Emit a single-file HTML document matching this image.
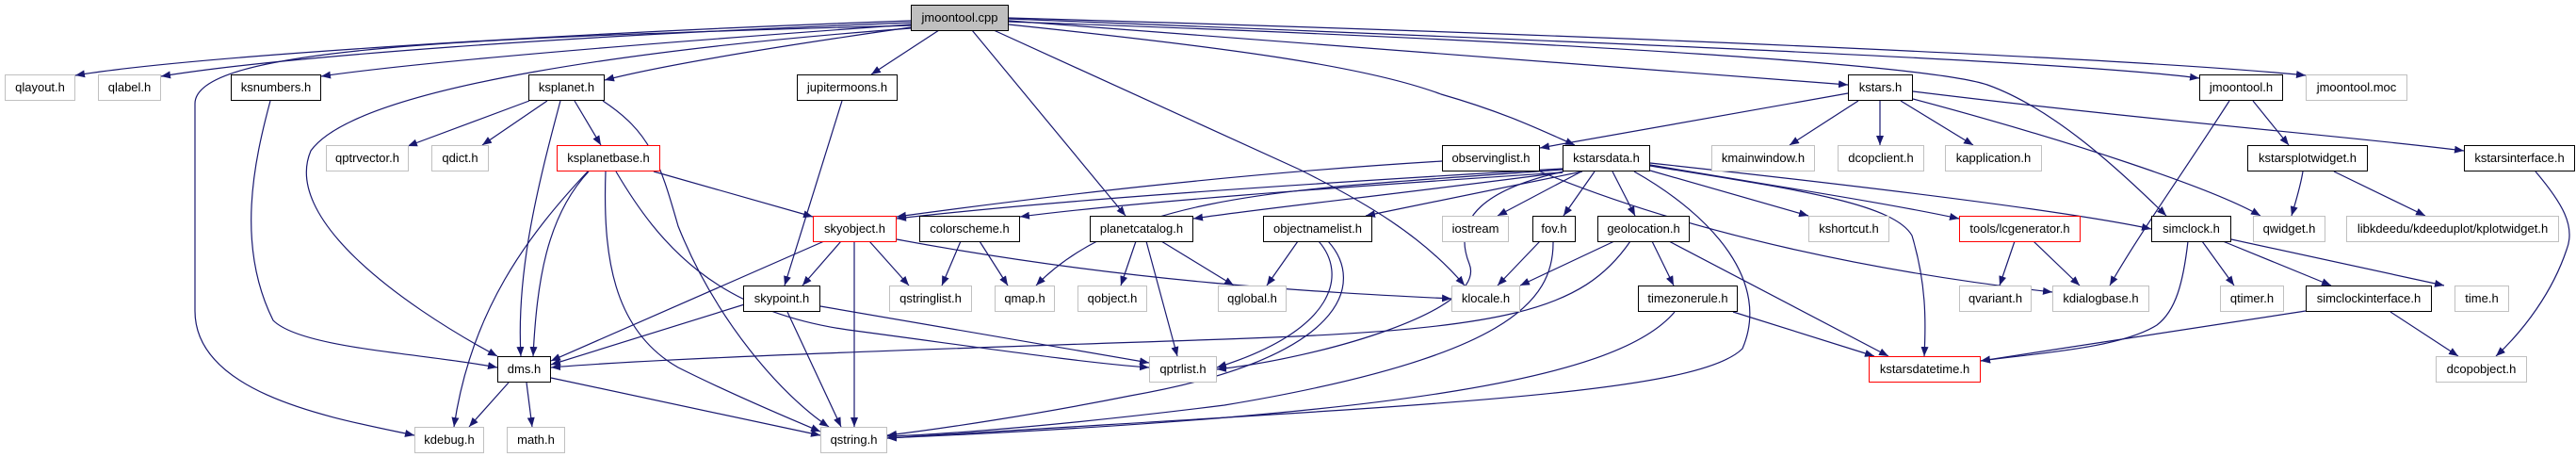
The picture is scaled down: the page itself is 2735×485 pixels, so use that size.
<!DOCTYPE html>
<html><head><meta charset="utf-8"><style>
html,body{margin:0;padding:0;background:#fff;}
#c{position:relative;width:2735px;height:485px;overflow:hidden;background:#fff;}
.n{position:absolute;box-sizing:border-box;height:28px;line-height:26px;text-align:center;font-family:"Liberation Sans",sans-serif;font-size:13px;color:#000;background:#fff;white-space:nowrap;}
.g{border:1.5px solid #c0c0c0;}
.b{border:1.5px solid #000;}
.r{border:1.5px solid #ff0000;}
.f{border:1.5px solid #000;background:#bfbfbf;}
svg{position:absolute;left:0;top:0;}
</style></head><body><div id="c">
<svg width="2735" height="485" viewBox="0 0 2735 485">
<defs><marker id="a" viewBox="0 0 10 8" refX="10" refY="4" markerWidth="10" markerHeight="8" markerUnits="userSpaceOnUse" orient="auto"><polygon points="0,0 10,4 0,8" fill="#191970"/></marker></defs>
<g fill="none" stroke="#191970" stroke-width="1.2" marker-end="url(#a)">
<path d="M967,22 C600,35 200,60 80,80"/>
<path d="M967,24 C600,38 300,60 171,81"/>
<path d="M967,26 C700,45 450,65 341,81"/>
<path d="M967,27 C500,40 207,50 207,110 L207,330 C207,420 360,445 440,462"/>
<path d="M967,30 C700,50 380,90 330,160 C300,230 420,320 528,378"/>
<path d="M967,29 C820,50 700,70 642,85"/>
<path d="M997,32 L925,79"/>
<path d="M1032,32 L1195,229"/>
<path d="M1055,32 L1380,180 C1450,215 1510,250 1555,303"/>
<path d="M1071,26 C1300,50 1450,70 1530,100 C1600,120 1640,140 1672,154"/>
<path d="M1071,22 L1962,90"/>
<path d="M1071,23 C1700,45 2050,70 2110,90 C2180,115 2250,180 2300,229"/>
<path d="M1071,20 C1700,45 2200,65 2335,83"/>
<path d="M1071,19 C1800,40 2300,65 2448,80"/>
<path d="M1962,99 L1635,157"/>
<path d="M1973,107 L1900,154"/>
<path d="M1996,107 L1996,154"/>
<path d="M2018,107 L2095,154"/>
<path d="M2031,105 C2200,150 2350,200 2400,229"/>
<path d="M2031,97 C2300,130 2500,145 2616,160"/>
<path d="M2392,107 L2430,154"/>
<path d="M2367,107 C2320,180 2270,250 2240,303"/>
<path d="M2445,182 C2442,200 2437,215 2433,229"/>
<path d="M2478,182 L2575,229"/>
<path d="M2692,182 C2720,215 2735,240 2725,265 C2710,310 2680,350 2650,378"/>
<path d="M287,107 C270,170 250,260 290,340 C320,370 450,375 528,390"/>
<path d="M562,107 L433,155"/>
<path d="M581,107 L512,154"/>
<path d="M610,107 L638,154"/>
<path d="M595,107 C570,200 548,290 553,378"/>
<path d="M640,107 C690,140 700,170 720,240 C760,340 830,420 880,453"/>
<path d="M694,182 L863,230"/>
<path d="M625,182 C580,230 570,300 566,378"/>
<path d="M624,182 C560,250 500,330 482,453"/>
<path d="M643,182 C640,270 650,350 720,390 C780,420 840,445 871,458"/>
<path d="M654,182 C700,260 760,330 900,350 C1050,370 1150,385 1220,390"/>
<path d="M893,256 L852,303"/>
<path d="M875,256 L585,383"/>
<path d="M907,256 L907,453"/>
<path d="M923,256 L965,303"/>
<path d="M952,254 C1200,300 1400,310 1541,317"/>
<path d="M894,107 L833,303"/>
<path d="M1020,256 L1000,303"/>
<path d="M1040,256 L1070,303"/>
<path d="M1206,256 L1190,303"/>
<path d="M1233,256 L1310,303"/>
<path d="M1217,256 L1250,378"/>
<path d="M1378,256 L1345,303"/>
<path d="M1400,256 C1430,290 1420,350 1292,390"/>
<path d="M1410,256 C1450,300 1430,380 1200,420 C1100,440 1000,455 942,462"/>
<path d="M797,321 L585,387"/>
<path d="M836,331 L893,453"/>
<path d="M871,325 L1220,385"/>
<path d="M540,406 L498,453"/>
<path d="M559,406 L565,453"/>
<path d="M585,401 L871,462"/>
<path d="M1531,171 C1300,185 1100,210 952,230"/>
<path d="M1635,182 C1800,250 2000,290 2179,310"/>
<path d="M1659,179 C1300,200 1100,215 952,232"/>
<path d="M1659,183 C1400,200 1200,215 1083,230"/>
<path d="M1659,183 C1450,210 1350,220 1267,232"/>
<path d="M1659,180 C1400,200 1200,200 1100,303"/>
<path d="M1680,182 L1450,229"/>
<path d="M1660,182 C1580,200 1540,230 1560,280 C1580,330 1400,380 1292,392"/>
<path d="M1679,182 L1590,229"/>
<path d="M1693,182 L1660,229"/>
<path d="M1712,182 L1736,229"/>
<path d="M1752,181 L1920,229"/>
<path d="M1735,182 C1820,230 1880,300 1850,370 C1800,420 1500,430 942,465"/>
<path d="M1752,176 C1900,200 2010,215 2030,250 C2045,300 2045,340 2043,378"/>
<path d="M1752,175 C1900,200 2000,215 2080,232"/>
<path d="M1752,173 C2000,200 2200,225 2284,243"/>
<path d="M1635,256 L1590,303"/>
<path d="M1649,256 C1650,320 1600,380 1300,430 C1100,455 980,462 942,463"/>
<path d="M1714,256 L1614,303"/>
<path d="M1754,256 L1777,303"/>
<path d="M1772,256 L2005,378"/>
<path d="M1731,256 C1680,330 1600,350 1300,360 C1000,370 700,380 585,390"/>
<path d="M1840,331 L1990,378"/>
<path d="M1778,331 C1720,400 1500,440 942,465"/>
<path d="M2139,256 L2123,303"/>
<path d="M2159,256 L2208,303"/>
<path d="M2338,256 L2372,303"/>
<path d="M2360,256 L2475,303"/>
<path d="M2369,254 L2595,303"/>
<path d="M2323,256 C2318,300 2310,330 2290,345 C2250,370 2160,375 2103,383"/>
<path d="M2448,330 L2103,383"/>
<path d="M2538,331 L2610,378"/>
</g>
</svg>
<div class="n f" style="left:967px;top:5px;width:104px;">jmoontool.cpp</div>
<div class="n g" style="left:5px;top:79px;width:75px;">qlayout.h</div>
<div class="n g" style="left:104px;top:79px;width:67px;">qlabel.h</div>
<div class="n b" style="left:245px;top:79px;width:96px;">ksnumbers.h</div>
<div class="n b" style="left:561px;top:79px;width:81px;">ksplanet.h</div>
<div class="n b" style="left:846px;top:79px;width:107px;">jupitermoons.h</div>
<div class="n b" style="left:1962px;top:79px;width:69px;">kstars.h</div>
<div class="n b" style="left:2335px;top:79px;width:89px;">jmoontool.h</div>
<div class="n g" style="left:2448px;top:79px;width:108px;">jmoontool.moc</div>
<div class="n g" style="left:346px;top:154px;width:88px;">qptrvector.h</div>
<div class="n g" style="left:458px;top:154px;width:61px;">qdict.h</div>
<div class="n r" style="left:591px;top:154px;width:110px;">ksplanetbase.h</div>
<div class="n b" style="left:1531px;top:154px;width:104px;">observinglist.h</div>
<div class="n b" style="left:1659px;top:154px;width:93px;">kstarsdata.h</div>
<div class="n g" style="left:1817px;top:154px;width:110px;">kmainwindow.h</div>
<div class="n g" style="left:1951px;top:154px;width:92px;">dcopclient.h</div>
<div class="n g" style="left:2065px;top:154px;width:103px;">kapplication.h</div>
<div class="n b" style="left:2386px;top:154px;width:128px;">kstarsplotwidget.h</div>
<div class="n b" style="left:2616px;top:154px;width:118px;">kstarsinterface.h</div>
<div class="n r" style="left:863px;top:229px;width:89px;">skyobject.h</div>
<div class="n b" style="left:976px;top:229px;width:107px;">colorscheme.h</div>
<div class="n b" style="left:1157px;top:229px;width:110px;">planetcatalog.h</div>
<div class="n b" style="left:1341px;top:229px;width:116px;">objectnamelist.h</div>
<div class="n g" style="left:1531px;top:229px;width:71px;">iostream</div>
<div class="n b" style="left:1627px;top:229px;width:46px;">fov.h</div>
<div class="n b" style="left:1696px;top:229px;width:98px;">geolocation.h</div>
<div class="n g" style="left:1920px;top:229px;width:86px;">kshortcut.h</div>
<div class="n r" style="left:2080px;top:229px;width:129px;">tools/lcgenerator.h</div>
<div class="n b" style="left:2284px;top:229px;width:85px;">simclock.h</div>
<div class="n g" style="left:2392px;top:229px;width:77px;">qwidget.h</div>
<div class="n g" style="left:2491px;top:229px;width:226px;">libkdeedu/kdeeduplot/kplotwidget.h</div>
<div class="n b" style="left:789px;top:303px;width:82px;">skypoint.h</div>
<div class="n g" style="left:944px;top:303px;width:88px;">qstringlist.h</div>
<div class="n g" style="left:1056px;top:303px;width:64px;">qmap.h</div>
<div class="n g" style="left:1144px;top:303px;width:74px;">qobject.h</div>
<div class="n g" style="left:1293px;top:303px;width:73px;">qglobal.h</div>
<div class="n g" style="left:1541px;top:303px;width:73px;">klocale.h</div>
<div class="n b" style="left:1739px;top:303px;width:106px;">timezonerule.h</div>
<div class="n g" style="left:2080px;top:303px;width:77px;">qvariant.h</div>
<div class="n g" style="left:2179px;top:303px;width:103px;">kdialogbase.h</div>
<div class="n g" style="left:2357px;top:303px;width:68px;">qtimer.h</div>
<div class="n b" style="left:2448px;top:303px;width:134px;">simclockinterface.h</div>
<div class="n g" style="left:2606px;top:303px;width:58px;">time.h</div>
<div class="n b" style="left:528px;top:378px;width:57px;">dms.h</div>
<div class="n g" style="left:1220px;top:378px;width:72px;">qptrlist.h</div>
<div class="n r" style="left:1984px;top:378px;width:119px;">kstarsdatetime.h</div>
<div class="n g" style="left:2586px;top:378px;width:97px;">dcopobject.h</div>
<div class="n g" style="left:440px;top:453px;width:74px;">kdebug.h</div>
<div class="n g" style="left:538px;top:453px;width:62px;">math.h</div>
<div class="n g" style="left:871px;top:453px;width:71px;">qstring.h</div>
</div></body></html>
